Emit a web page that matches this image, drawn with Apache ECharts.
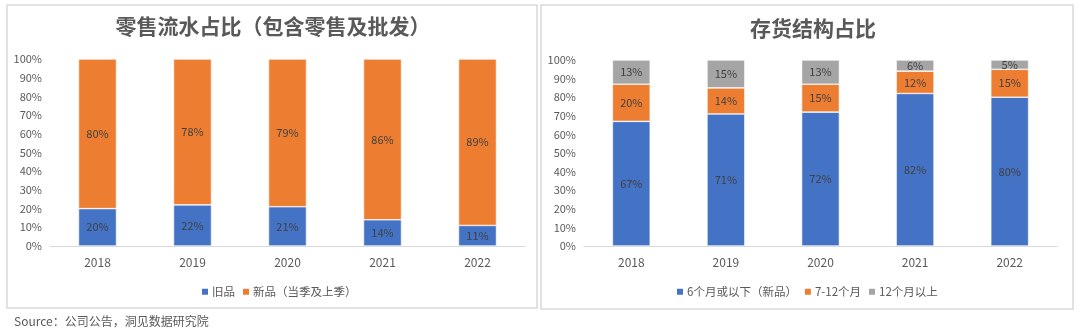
<!DOCTYPE html>
<html><head><meta charset="utf-8">
<script src="https://cdn.jsdelivr.net/npm/echarts@6/dist/echarts.min.js"></script>
<style>html,body{margin:0;padding:0;background:#fff}#c{width:1080px;height:332px}</style>
</head><body><div id="c"></div>
<script>
const years = ['2018','2019','2020','2021','2022'];
const oldGoods = [20,22,21,14,11];
const newGoods = [80,78,79,86,89];
const inv6m = [67,71,72,82,80];
const inv7to12 = [20,14,15,12,15];
const inv12plus = [13,15,13,6,5];
const yTicks = [0,10,20,30,40,50,60,70,80,90,100];

const FONT = '"Noto Sans CJK SC", "Noto Sans", sans-serif';
const C_BLUE = '#4472C4', C_ORANGE = '#ED7D31', C_GRAY = '#A5A5A5';
const chart = echarts.init(document.getElementById('c'));

function xAxis(idx){
  return {type:'category', gridIndex:idx, data:years,
    axisLine:{lineStyle:{color:'#d9d9d9'}}, axisTick:{show:false},
    axisLabel:{color:'#595959', fontSize:12, fontFamily:FONT, margin:10}};
}
function yAxis(idx){
  return {type:'value', gridIndex:idx, min:yTicks[0], max:yTicks[yTicks.length-1], interval:10,
    splitLine:{show:false}, axisLine:{show:false}, axisTick:{show:false},
    axisLabel:{color:'#595959', fontSize:11, fontFamily:FONT, formatter:'{value}%', margin:8}};
}
function bar(name, data, color, xi, yi, stack){
  return {name, type:'bar', stack, xAxisIndex:xi, yAxisIndex:yi, data, barWidth:'40%',
    itemStyle:{color, borderColor:'#fff', borderWidth:0.6},
    label:{show:true, position:'inside', formatter:'{c}%', color:'#404040', fontSize:11, fontFamily:FONT}};
}

chart.setOption({
  animation:false,
  textStyle:{fontFamily:FONT},
  title:[
    {text:'零售流水占比（包含零售及批发）', left:268, top:11, textAlign:'center',
     textStyle:{fontSize:21, fontWeight:'bold', color:'#595959', fontFamily:FONT}},
    {text:'存货结构占比', left:808, top:13, textAlign:'center',
     textStyle:{fontSize:21, fontWeight:'bold', color:'#595959', fontFamily:FONT}}
  ],
  legend:[
    {data:['旧品','新品（当季及上季）'], left:195, top:281, itemWidth:8, itemHeight:8, itemGap:6,
     icon:'rect', textStyle:{color:'#595959', fontSize:11.5, fontFamily:FONT, padding:[0,0,0,-2]}},
    {data:['6个月或以下（新品）','7-12个月','12个月以上'], left:670, top:281, itemWidth:8, itemHeight:8, itemGap:6,
     icon:'rect', textStyle:{color:'#595959', fontSize:11.5, fontFamily:FONT, padding:[0,0,0,-2]}}
  ],
  grid:[
    {left:50, width:475, top:59, height:187},
    {left:584, width:473, top:60, height:186}
  ],
  xAxis:[xAxis(0), xAxis(1)],
  yAxis:[yAxis(0), yAxis(1)],
  series:[
    bar('旧品', oldGoods, C_BLUE, 0, 0, 'a'),
    bar('新品（当季及上季）', newGoods, C_ORANGE, 0, 0, 'a'),
    bar('6个月或以下（新品）', inv6m, C_BLUE, 1, 1, 'b'),
    bar('7-12个月', inv7to12, C_ORANGE, 1, 1, 'b'),
    bar('12个月以上', inv12plus, C_GRAY, 1, 1, 'b')
  ],
  graphic:[
    {type:'rect', shape:{x:7, y:5, width:530, height:303}, style:{fill:'none', stroke:'#d9d9d9', lineWidth:1.5}, z:-1},
    {type:'rect', shape:{x:541, y:5, width:532, height:304}, style:{fill:'none', stroke:'#d9d9d9', lineWidth:1.5}, z:-1},
    {type:'text', left:14, top:315, style:{text:'Source：公司公告，洞见数据研究院', fill:'#595959', fontSize:12, fontFamily:FONT}}
  ]
});
</script></body></html>
